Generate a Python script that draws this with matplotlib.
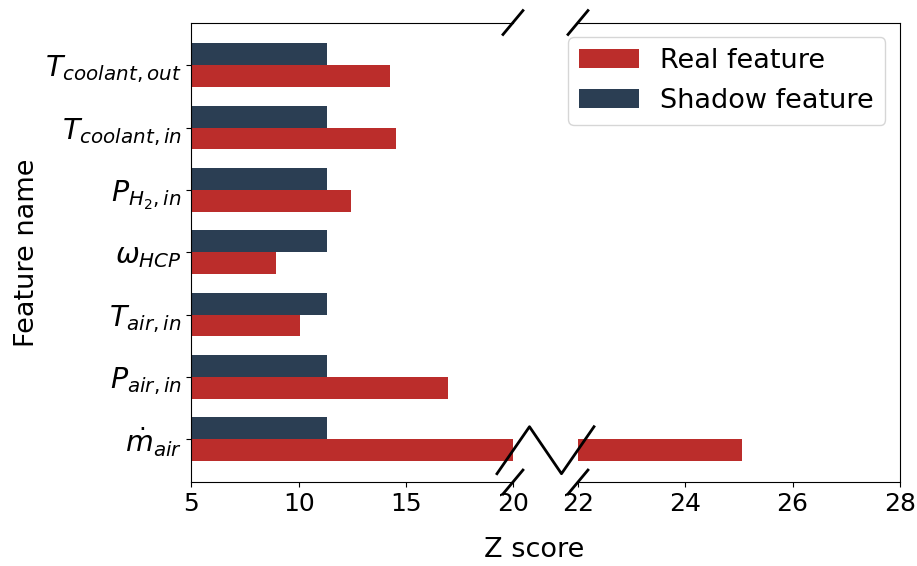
import numpy as np
import matplotlib.pyplot as plt
from matplotlib.lines import Line2D

# Feature names, bottom to top
features = [r"$\dot{m}_{air}$", r"$P_{air,in}$", r"$T_{air,in}$", r"$\omega_{HCP}$",
            r"$P_{H_2,in}$", r"$T_{coolant,in}$", r"$T_{coolant,out}$"]
real_z = [25.05, 16.95, 10.06, 8.93, 12.45, 14.52, 14.26]
shadow_z = [11.34, 11.34, 11.34, 11.34, 11.34, 11.34, 11.34]

left_ticks = [5, 10, 15, 20]
right_ticks = [22, 24, 26, 28]

RED = "#bb2d2b"
NAVY = "#2b3e53"
FS = 18
LABEL_FS = 19.5

fig = plt.figure(figsize=(9.17, 5.66), dpi=100)
ax1 = fig.add_axes([0.2088, 0.1484, 0.3506, 0.8118])
ax2 = fig.add_axes([0.6303, 0.1484, 0.3511, 0.8118])

y = np.arange(len(features))
h = 0.35
for ax in (ax1, ax2):
    ax.barh(y - h / 2, real_z, height=h, left=0, color=RED, label="Real feature")
    ax.barh(y + h / 2, shadow_z, height=h, left=0, color=NAVY, label="Shadow feature")
    ax.margins(y=0.05)
    ax.tick_params(labelsize=FS)

ax1.set_xlim(5, 20)
ax2.set_xlim(22, 28)
ax1.set_xticks(left_ticks)
ax2.set_xticks(right_ticks)
ax1.set_yticks(y)
ax1.set_yticklabels(features, fontsize=20.5)
ax1.set_ylabel("Feature name", fontsize=LABEL_FS)
ax2.set_ylim(ax1.get_ylim())

ax1.spines["right"].set_visible(False)
ax2.spines["left"].set_visible(False)
ax2.tick_params(axis="y", left=False, labelleft=False)

fig.text(0.582, 0.028, "Z score", fontsize=LABEL_FS, ha="center", va="center")

ax2.legend(loc="upper right", fontsize=LABEL_FS, handlelength=2.2,
           borderaxespad=0.55)

# diagonal break marks on the top and bottom spines
dx1, dy = 0.031, 0.026
kw = dict(color="k", lw=2, clip_on=False)
ax1.plot((1 - dx1, 1 + dx1), (-dy, dy), transform=ax1.transAxes, **kw)
ax1.plot((1 - dx1, 1 + dx1), (1 - dy, 1 + dy), transform=ax1.transAxes, **kw)
dx2 = dx1 * 0.3506 / 0.3511
ax2.plot((-dx2, dx2), (-dy, dy), transform=ax2.transAxes, **kw)
ax2.plot((-dx2, dx2), (1 - dy, 1 + dy), transform=ax2.transAxes, **kw)

# zigzag across the gap on the bar that runs past the break
fig.canvas.draw()
to_fig = fig.transFigure.inverted()
x_l, yc = ax1.transData.transform((20, y[0] - h / 2))
x_r, _ = ax2.transData.transform((22, y[0] - h / 2))
amp = 23.5
xs = [x_l - 16, (x_l + x_r) / 2 - 16, (x_l + x_r) / 2 + 16, x_r + 16]
ys = [yc - amp, yc + amp, yc - amp, yc + amp]
pts = to_fig.transform(np.column_stack([xs, ys]))
fig.add_artist(Line2D(pts[:, 0], pts[:, 1], color="k", lw=2,
                      transform=fig.transFigure))

fig.savefig("out.png", dpi=100)
